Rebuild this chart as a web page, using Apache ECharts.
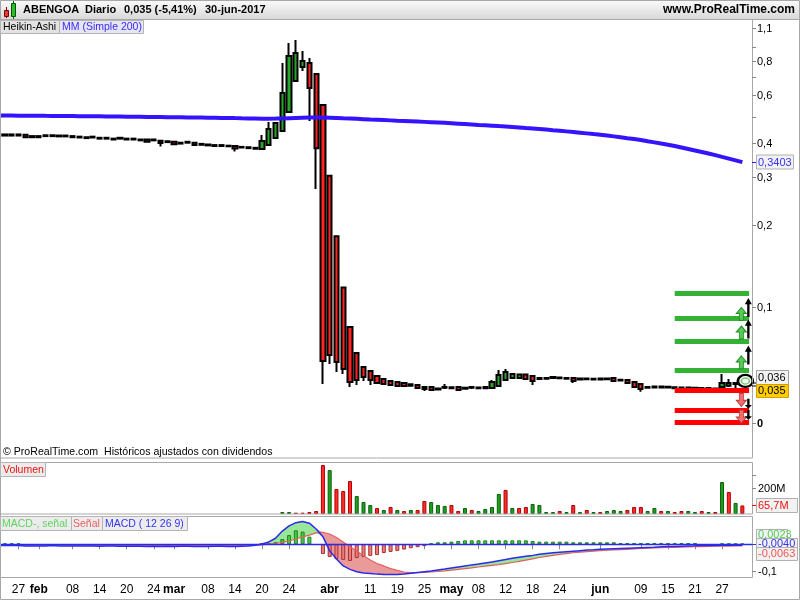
<!DOCTYPE html>
<html><head><meta charset="utf-8">
<script src="https://cdn.jsdelivr.net/npm/echarts@6/dist/echarts.min.js"></script>
<style>html,body{margin:0;padding:0;background:#fff}#c{width:800px;height:600px}</style>
</head><body><div id="c"></div>
<script>
// ---------- DATA ----------
const dates = ['01-24','01-25','01-26','01-27','01-30','01-31',
'02-01','02-02','02-03','02-06','02-07','02-08','02-09','02-10','02-13','02-14','02-15','02-16','02-17','02-20','02-21','02-22','02-23','02-24','02-27','02-28',
'03-01','03-02','03-03','03-06','03-07','03-08','03-09','03-10','03-13','03-14','03-15','03-16','03-17','03-20','03-21','03-22','03-23','03-24','03-27','03-28','03-29','03-30','03-31',
'04-03','04-04','04-05','04-06','04-07','04-10','04-11','04-12','04-13','04-18','04-19','04-20','04-21','04-24','04-25','04-26','04-27','04-28',
'05-02','05-03','05-04','05-05','05-08','05-09','05-10','05-11','05-12','05-15','05-16','05-17','05-18','05-19','05-22','05-23','05-24','05-25','05-26','05-29','05-30','05-31',
'06-01','06-02','06-05','06-06','06-07','06-08','06-09','06-12','06-13','06-14','06-15','06-16','06-19','06-20','06-21','06-22','06-23','06-26','06-27','06-28','06-29','06-30'];

const xTickDates = ['01-27','02-01','02-08','02-14','02-20','02-24','03-01','03-08','03-14','03-20','03-24','04-03','04-11','04-19','04-25','05-02','05-08','05-12','05-18','05-24','06-01','06-09','06-15','06-21','06-27'];
const xTickTexts = ['27','feb','08','14','20','24','mar','08','14','20','24','abr','11','19','25','may','08','12','18','24','jun','09','15','21','27'];
const monthNames = ['feb','mar','abr','may','jun'];

// Heikin-Ashi candles: [open, close, low, high]
const haCandles = [
[0.426,0.430,0.426,0.430],[0.426,0.430,0.426,0.430],[0.426,0.430,0.426,0.430],[0.426,0.430,0.426,0.430],
[0.429,0.420,0.420,0.429],[0.420,0.424,0.420,0.424],[0.420,0.424,0.420,0.424],[0.424,0.427,0.424,0.427],
[0.424,0.427,0.424,0.427],[0.423,0.426,0.423,0.426],[0.423,0.426,0.423,0.426],[0.420,0.424,0.420,0.424],
[0.419,0.422,0.419,0.422],[0.417,0.420,0.417,0.420],[0.419,0.422,0.419,0.422],[0.415,0.418,0.415,0.418],
[0.415,0.418,0.415,0.418],[0.412,0.415,0.412,0.415],[0.415,0.418,0.415,0.418],[0.412,0.415,0.412,0.415],
[0.412,0.415,0.412,0.415],[0.409,0.412,0.409,0.412],[0.412,0.404,0.404,0.412],[0.409,0.412,0.409,0.412],
[0.408,0.400,0.388,0.408],[0.403,0.406,0.403,0.406],[0.404,0.396,0.396,0.404],[0.398,0.401,0.398,0.401],
[0.401,0.404,0.401,0.404],[0.401,0.393,0.393,0.401],[0.394,0.397,0.394,0.397],[0.392,0.395,0.392,0.395],
[0.390,0.393,0.390,0.393],[0.390,0.393,0.390,0.393],[0.389,0.391,0.389,0.391],[0.390,0.382,0.372,0.390],
[0.385,0.387,0.385,0.387],[0.383,0.386,0.383,0.386],[0.381,0.384,0.381,0.384],
[0.380,0.407,0.380,0.428],[0.393,0.450,0.393,0.478],[0.417,0.474,0.417,0.476],[0.443,0.610,0.443,0.787],
[0.520,0.835,0.520,0.932],[0.676,0.856,0.676,0.955],[0.760,0.800,0.735,0.870],[0.787,0.637,0.482,0.820],
[0.717,0.383,0.271,0.717],[0.552,0.0633,0.0521,0.552],[0.303,0.0667,0.0618,0.303],[0.182,0.0628,0.0577,0.182],
[0.118,0.0592,0.0568,0.118],[0.0845,0.0530,0.0509,0.0845],[0.0678,0.0539,0.0517,0.0678],[0.0602,0.0553,0.0535,0.0602],
[0.0582,0.0539,0.0517,0.0582],[0.0558,0.0526,0.0522,0.0558],[0.0544,0.0521,0.0517,0.0544],[0.0535,0.0517,0.0513,0.0535],
[0.0530,0.0513,0.0510,0.0530],[0.0526,0.0513,0.0510,0.0526],[0.0520,0.0514,0.0512,0.0520],[0.0517,0.0504,0.0502,0.0517],
[0.0509,0.0500,0.0492,0.0509],[0.0509,0.0496,0.0494,0.0509],[0.0502,0.0498,0.0496,0.0504],[0.0505,0.0509,0.0500,0.0521],
[0.0503,0.0507,0.0500,0.0509],[0.0509,0.0496,0.0494,0.0509],[0.0505,0.0501,0.0500,0.0507],[0.0505,0.0509,0.0500,0.0512],
[0.0503,0.0506,0.0500,0.0508],[0.0503,0.0508,0.0500,0.0510],[0.0504,0.0530,0.0504,0.0539],[0.0513,0.0563,0.0513,0.0587],
[0.0539,0.0577,0.0537,0.0592],[0.0549,0.0568,0.0549,0.0570],[0.0549,0.0565,0.0547,0.0568],[0.0565,0.0544,0.0542,0.0568],
[0.0558,0.0535,0.0517,0.0558],[0.0549,0.0544,0.0543,0.0550],[0.0545,0.0549,0.0544,0.0550],[0.0549,0.0553,0.0548,0.0554],
[0.0547,0.0551,0.0546,0.0552],[0.0545,0.0549,0.0544,0.0550],[0.0549,0.0535,0.0526,0.0549],[0.0542,0.0546,0.0541,0.0547],
[0.0543,0.0546,0.0541,0.0547],[0.0542,0.0545,0.0541,0.0547],[0.0542,0.0546,0.0541,0.0547],[0.0543,0.0546,0.0541,0.0547],
[0.0549,0.0535,0.0535,0.0549],[0.0537,0.0541,0.0536,0.0542],[0.0539,0.0526,0.0526,0.0539],[0.0530,0.0509,0.0509,0.0530],
[0.0521,0.0500,0.0488,0.0521],[0.0509,0.0505,0.0502,0.0511],[0.0506,0.0511,0.0504,0.0513],[0.0506,0.0511,0.0504,0.0513],
[0.0506,0.0510,0.0504,0.0513],[0.0503,0.0507,0.0501,0.0509],[0.0502,0.0506,0.0500,0.0507],[0.0502,0.0506,0.0500,0.0507],
[0.0502,0.0505,0.0500,0.0507],[0.0500,0.0504,0.0499,0.0505],[0.0500,0.0504,0.0499,0.0505],[0.0498,0.0502,0.0497,0.0503],
[0.0509,0.0526,0.0506,0.0568],[0.0514,0.0526,0.0509,0.0544],[0.0521,0.0526,0.0504,0.0530],[0.0524,0.0521,0.0513,0.0530]
];

// Simple moving average 200
const ma200 = [0.5047,0.5045,0.5043,0.5041,0.5039,0.5037,0.5034,0.5031,0.5029,0.5027,
0.5025,0.5022,0.5019,0.5016,0.5013,0.5010,0.5007,0.5004,0.5000,0.4996,
0.4993,0.4990,0.4987,0.4983,0.4980,0.4977,0.4973,0.4969,0.4965,0.4962,
0.4958,0.4954,0.4950,0.4946,0.4941,0.4936,0.4930,0.4925,0.4920,
0.4915,0.4915,0.4918,0.4925,0.4935,0.4945,0.4955,0.4962,0.4965,
0.4963,0.4955,0.4943,0.4930,0.4918,0.4905,0.4892,0.4879,0.4867,0.4855,0.4843,0.4830,0.4818,0.4806,0.4794,0.4782,0.4770,0.4757,
0.4742,0.4726,0.4710,0.4694,0.4678,0.4662,0.4647,0.4631,0.4615,0.4600,0.4581,0.4562,0.4542,0.4523,0.4503,0.4481,0.4458,0.4436,
0.4413,0.4390,0.4365,0.4339,0.4313,0.4288,0.4262,0.4230,0.4198,0.4166,0.4135,0.4103,0.4062,0.4022,0.3981,0.3941,0.3900,
0.3852,0.3804,0.3756,0.3708,0.3660,0.3609,0.3557,0.3506,0.3454,0.3403];

// Volume (millions) and direction (1 = up/green, 0 = down/red)
const volumeM = [0,0,0,0,0,0,0,0,0,0, 0,0,0,0,0,0,0,0,0,0, 0,0,0,0,0,0,0,0,0,0, 0,0,0,0,0,0,0,0,0,0, 0,0,
15,15,10,10,15,23,377,338,192,177,254,138,92,69,46,31,54,31,23,31,31,100,92,69,62,69,23,46,31,23,38,54,154,185,
46,46,54,77,69,15,15,23,15,69,15,31,15,15,23,31,23,31,54,54,23,46,23,23,15,23,23,15,23,15,15,246,169,85,65.7];
const volumeUp = [0,0,0,0,0,0,0,0,0,0, 0,0,0,0,0,0,0,0,0,0, 0,0,0,0,0,0,0,0,0,0, 0,0,0,0,0,0,0,0,0,0, 0,0,
1,1,0,0,0,0,0,1,0,0,0,1,1,1,0,1,0,1,0,1,0,0,1,1,1,0,0,1,0,1,1,1,1,0,
1,0,0,1,1,1,1,0,1,0,1,0,1,0,1,1,1,0,0,0,1,1,0,1,0,0,1,1,0,1,0,1,0,1,0];

// MACD (12 26 9)
const macdLine = [-0.005,-0.005,-0.005,-0.005,-0.006,-0.006,-0.006,-0.006,-0.005,-0.006,
-0.006,-0.006,-0.006,-0.006,-0.006,-0.007,-0.006,-0.006,-0.007,-0.007,
-0.007,-0.007,-0.008,-0.007,-0.008,-0.007,-0.008,-0.007,-0.007,-0.008,
-0.008,-0.008,-0.007,-0.007,-0.008,-0.008,-0.007,-0.006,-0.004,
0.001,0.009,0.023,0.050,0.070,0.082,0.086,0.080,0.058,0.029,-0.025,-0.056,-0.082,-0.095,-0.104,-0.109,-0.111,-0.113,-0.114,-0.114,
-0.114,-0.1125,-0.110,-0.107,-0.104,-0.101,-0.097,-0.094,-0.090,-0.086,-0.082,-0.078,-0.075,-0.071,-0.067,-0.062,-0.058,-0.053,-0.049,-0.045,
-0.042,-0.038,-0.035,-0.032,-0.030,-0.028,-0.026,-0.024,-0.022,-0.021,-0.019,-0.018,-0.017,-0.016,-0.015,-0.014,-0.013,-0.012,-0.011,-0.0095,
-0.0087,-0.008,-0.0072,-0.0065,-0.0058,-0.005,-0.0046,-0.0043,-0.0035,-0.0035,-0.0038,-0.0040];
const signalLine = [-0.002,-0.002,-0.001,-0.002,-0.002,-0.002,-0.002,-0.003,-0.002,-0.002,
-0.002,-0.002,-0.003,-0.002,-0.002,-0.002,-0.003,-0.002,-0.002,-0.003,
-0.003,-0.002,-0.003,-0.003,-0.002,-0.003,-0.003,-0.002,-0.003,-0.003,
-0.003,-0.003,-0.003,-0.002,-0.003,-0.003,-0.003,-0.003,-0.003,
-0.002,0.001,0.003,0.007,0.0125,0.020,0.028,0.035,0.043,0.0455,0.039,0.026,0.009,-0.009,-0.025,-0.043,-0.0595,-0.073,-0.082,-0.092,
-0.099,-0.105,-0.107,-0.1075,-0.1065,-0.105,-0.103,-0.101,-0.098,-0.095,-0.092,-0.089,-0.086,-0.083,-0.080,-0.077,-0.073,-0.069,-0.065,-0.060,
-0.055,-0.050,-0.046,-0.042,-0.038,-0.035,-0.032,-0.030,-0.028,-0.026,-0.024,-0.022,-0.021,-0.020,-0.019,-0.0175,-0.016,-0.015,-0.014,-0.013,
-0.012,-0.0115,-0.0105,-0.0097,-0.009,-0.0085,-0.008,-0.0075,-0.0071,-0.0068,-0.0065,-0.0063];
const macdHist = [0.004,0.004,0.004,0.004,0,0,0,0,0,0, 0,0,0,0,0,0,0,0,0,0, 0,0,0,0,0,0,0,0,0,0, 0,0,0,0,0,0,0,0,0,
0.004,0.004,0.008,0.020,0.035,0.053,0.048,0.029,0,-0.037,-0.048,-0.056,-0.059,-0.063,-0.052,-0.048,-0.044,-0.041,-0.033,-0.029,-0.025,-0.020,-0.015,-0.011,-0.007,
0.004,0.0076,0.0076,0.010,0.0125,0.015,0.015,0.015,0.015,0.015,0.015,0.015,0.015,0.015,0.015,0.0125,0.010,0.010,0.010,0.010,0.010,
0.0076,0.0076,0.0076,0.0076,0.0076,0.0076,0.0076,0.005,0.005,0.005,0.005,0.005,0.005,0.005,0.005,0.005,0.005,0.005,0.005,0,0,0,0.003,0.003,0.0025,0.0023];

// Right-axis tick labels
const priceTickValues = [1.1, 0.8, 0.6, 0.4, 0.3, 0.2, 0.1, 0.0375];
const priceTickTexts  = ['1,1','0,8','0,6','0,4','0,3','0,2','0,1','0'];
const priceMinorTicks = [0.9, 0.7, 0.5];
const volumeTickValues = [300, 200];
const volumeTickTexts = ['', '200M'];
const macdTickValues = [-0.1];
const macdTickTexts = ['-0,1'];

// Price alert levels (drawn at the right side)
const alertGreenLevels = [0.1121, 0.0907, 0.0747, 0.0585];
const alertRedLevels = [0.0496, 0.0417, 0.0377];
const arrowUpLevels = [0.0943, 0.0806, 0.0626];
const arrowUpBlackLevels = [0.0996, 0.0830, 0.0667];
const arrowDownLevels = [0.0456, 0.0396];
const arrowDownBlackLevels = [0.0441, 0.0401];

// ---------- CHART ----------
const FONT = '"Liberation Sans", Arial, Helvetica, sans-serif';
const cats = dates.concat(['']);
const GL = -5.2, GR = 47.5;
const tickSet = new Set(xTickDates);
const chart = echarts.init(document.getElementById('c'), null, {renderer: 'canvas'});

const GREEN = '#26a626', RED = '#ff2222';
const base = macdLine.map((m, i) => Math.min(m, signalLine[i]));
const bandGreen = macdLine.map((m, i) => m > signalLine[i] ? m - signalLine[i] : 0);
const bandRed = macdLine.map((m, i) => m < signalLine[i] ? signalLine[i] - m : 0);

const lastIdx = haCandles.length - 1;
const upArrow = 'path://M5,0 L10,6 L7,6 L7,13 L3,13 L3,6 L0,6 Z';
const downArrow = 'path://M3,0 L7,0 L7,7 L10,7 L5,13 L0,7 L3,7 Z';
const upThin = 'path://M3,0 L6,6 L4,6 L4,18 L2,18 L2,6 L0,6 Z';
const downThin = 'path://M2,0 L4,0 L4,8 L6,8 L3,13 L0,8 L2,8 Z';

const markPts = [];
arrowUpLevels.forEach(v => markPts.push({coord:[lastIdx, v], symbol: upArrow, symbolSize:[10,13], symbolOffset:[-1,0], itemStyle:{color:'#55cc55', borderColor:'#2a8a2a', borderWidth:1}}));
arrowUpBlackLevels.forEach(v => markPts.push({coord:[lastIdx, v], symbol: upThin, symbolSize:[7,19], symbolOffset:[6,0], itemStyle:{color:'#000'}}));
arrowDownLevels.forEach(v => markPts.push({coord:[lastIdx, v], symbol: downArrow, symbolSize:[10,13], symbolOffset:[-1,0], itemStyle:{color:'#f07070', borderColor:'#c04040', borderWidth:1}}));
arrowDownBlackLevels.forEach(v => markPts.push({coord:[lastIdx, v], symbol: downThin, symbolSize:[7,10], symbolOffset:[6,0], itemStyle:{color:'#000'}}));
markPts.push({coord:[lastIdx, 0.0535], symbol:'circle', symbolSize:[15,12], symbolOffset:[3,0], itemStyle:{color:'#fff', borderColor:'#000', borderWidth:2.5}});
markPts.push({coord:[lastIdx, 0.0535], symbol:'circle', symbolSize:[8,6], symbolOffset:[3,0], itemStyle:{color:'#fff', borderColor:'#77cc77', borderWidth:1.5}});

const alertLines = [];
alertGreenLevels.forEach(v => alertLines.push([{coord:[100, v], lineStyle:{color:'#33b233', width:5, type:'solid'}}, {coord:[111, v]}]));
alertRedLevels.forEach(v => alertLines.push([{coord:[100, v], lineStyle:{color:'#ff0000', width:5, type:'solid'}}, {coord:[111, v]}]));

const option = {
  animation: false,
  textStyle: {fontFamily: FONT},
  grid: [
    {left: GL, right: GR, top: 20, height: 438, outerBoundsMode: 'none'},
    {left: GL, right: GR, top: 462, height: 52, outerBoundsMode: 'none'},
    {left: GL, right: GR, top: 517, height: 60, outerBoundsMode: 'none'}
  ],
  xAxis: [
    {type:'category', gridIndex:0, data:cats, show:false},
    {type:'category', gridIndex:1, data:cats, show:false},
    {type:'category', gridIndex:2, data:cats,
      axisLine:{show:false},
      axisTick:{show:true, alignWithLabel:true, length:5, interval:(i, v) => tickSet.has(v), lineStyle:{color:'#888'}},
      axisLabel:{interval:(i, v) => tickSet.has(v), margin:7, color:'#000', fontSize:12, fontFamily:FONT,
        formatter:(v) => { const k = xTickDates.indexOf(v); if (k < 0) return ''; const t = xTickTexts[k]; return monthNames.indexOf(t) >= 0 ? '{b|' + t + '}' : t; },
        rich:{b:{fontWeight:'bold', fontSize:12, color:'#000', fontFamily:FONT}}},
      splitLine:{show:false}}
  ],
  yAxis: [
    {type:'log', logBase:10, gridIndex:0, min:0.0279, max:1.1314, show:false},
    {type:'value', gridIndex:1, min:0, max:400, show:false},
    {type:'value', gridIndex:2, min:-0.1239, max:0.1034, show:false}
  ],
  series: [
    {type:'candlestick', name:'Heikin-Ashi', xAxisIndex:0, yAxisIndex:0, data:haCandles, barWidth:4.7, z:2,
      itemStyle:{color:GREEN, color0:RED, borderColor:'#000', borderColor0:'#000', borderColorDoji:'#000', borderWidth:2},
      markLine:{silent:true, symbol:['none','none'], label:{show:false}, animation:false, data:alertLines},
      markPoint:{silent:true, label:{show:false}, animation:false, data:markPts}},
    {type:'line', name:'MM (Simple 200)', xAxisIndex:0, yAxisIndex:0, data:ma200, showSymbol:false, z:5,
      lineStyle:{color:'#3414ff', width:4}},
    {type:'bar', name:'Volumen', xAxisIndex:1, yAxisIndex:1, barWidth:4,
      data: volumeM.map((v, i) => v === 0 ? '-' : ({value:v, itemStyle: volumeUp[i] ? {color:'#1f9f1f', borderColor:'#0c600c', borderWidth:1} : {color:'#ff2b2b', borderColor:'#b00000', borderWidth:1}}))},
    {type:'line', xAxisIndex:2, yAxisIndex:2, data:base, stack:'band', stackStrategy:'all', showSymbol:false, lineStyle:{opacity:0}, z:1},
    {type:'line', xAxisIndex:2, yAxisIndex:2, data:bandGreen, stack:'band', stackStrategy:'all', showSymbol:false, lineStyle:{opacity:0}, areaStyle:{color:'#99e699', opacity:1}, z:1},
    {type:'line', xAxisIndex:2, yAxisIndex:2, data:bandRed, stack:'band', stackStrategy:'all', showSymbol:false, lineStyle:{opacity:0}, areaStyle:{color:'#eb9a9a', opacity:1}, z:1},
    {type:'bar', name:'MACD-, señal', xAxisIndex:2, yAxisIndex:2, barWidth:4, z:2,
      data: macdHist.map(v => v === 0 ? '-' : ({value:v, itemStyle: v > 0 ? {color:'#44cc44', borderColor:'#1f801f', borderWidth:1} : {color:'#ec7c7c', borderColor:'#a83030', borderWidth:1}}))},
    {type:'line', name:'Señal', xAxisIndex:2, yAxisIndex:2, data:signalLine, showSymbol:false, z:3, lineStyle:{color:'#e06060', width:1.2}},
    {type:'line', name:'MACD', xAxisIndex:2, yAxisIndex:2, data:macdLine, showSymbol:false, z:4, lineStyle:{color:'#2a2aee', width:1.5},
      markLine:{silent:true, symbol:['none','none'], label:{show:false}, animation:false, lineStyle:{color:'#2a2aee', width:1.3, type:'solid'}, data:[{yAxis:0}]}}
  ]
};
chart.setOption(option);

// ---------- GRAPHICS (frame, header, labels) ----------
const g = [];
const txt = (text, x, y, fill, font, align) => ({type:'text', silent:true, z:100, style:{text, x, y, fill, font: font || ('11px ' + FONT), align: align || 'left', verticalAlign:'middle'}});
const rect = (x, y, w, h, fill, stroke, z) => ({type:'rect', silent:true, z: z || 90, shape:{x, y, width:w, height:h}, style:{fill: fill || 'none', stroke: stroke || 'none', lineWidth:1}});
const line = (x1, y1, x2, y2, stroke) => ({type:'line', silent:true, z:95, shape:{x1, y1, x2, y2}, style:{stroke: stroke || '#888', lineWidth:1}});

// header
g.push({type:'rect', silent:true, z:80, shape:{x:0, y:0, width:800, height:19},
  style:{fill: new echarts.graphic.LinearGradient(0,0,0,1,[{offset:0,color:'#fbfbfb'},{offset:1,color:'#d9d9d9'}]), stroke:'none'}});
g.push(line(0, 19.5, 800, 19.5, '#a8a8a8'));
g.push(line(6.5, 7, 6.5, 18, '#800'));
g.push(rect(4.5, 10.5, 4, 6, '#e03a3a', '#800000', 96));
g.push(line(13.5, 1, 13.5, 19, '#060'));
g.push(rect(11.5, 3.5, 4, 13, '#2cbb2c', '#005500', 96));
const HB = 'bold 11px ' + FONT;
g.push(txt('ABENGOA', 23, 10, '#000', HB));
g.push(txt('Diario', 85, 10, '#000', HB));
g.push(txt('0,035 (-5,41%)', 124, 10, '#000', HB));
g.push(txt('30-jun-2017', 205, 10, '#000', HB));
g.push(txt('www.ProRealTime.com', 795, 10, '#000', 'bold 12px ' + FONT, 'right'));

// panel frames
g.push(rect(0.5, 19.5, 752, 438.5, 'none', '#a8a8a8'));
g.push(rect(0.5, 462.5, 752, 51.5, 'none', '#a8a8a8'));
g.push(rect(0.5, 516.5, 752, 61, 'none', '#a8a8a8'));
g.push(rect(0.5, 0.5, 799, 599, 'none', '#a8a8a8'));

// legend boxes
const LF = '10.5px ' + FONT;
g.push(rect(0.5, 20.5, 59, 13, '#e3e3e3', '#b4b4b4'));
g.push(txt('Heikin-Ashi', 3, 27, '#000', LF));
g.push(rect(59.5, 20.5, 84, 13, '#e6e6f0', '#b4b4b4'));
g.push(txt('MM (Simple 200)', 62, 27, '#3b2bff', LF));
g.push(txt('© ProRealTime.com  Históricos ajustados con dividendos', 3, 452, '#000', '10.6px ' + FONT));
g.push(rect(0.5, 462.5, 45, 14, '#ececec', '#b4b4b4'));
g.push(txt('Volumen', 3, 470, '#ee1111', LF));
g.push(rect(0.5, 516.5, 71, 14, '#ececec', '#b4b4b4'));
g.push(txt('MACD-, señal', 2, 524, '#5fd35f', LF));
g.push(rect(71.5, 516.5, 31, 14, '#ececec', '#b4b4b4'));
g.push(txt('Señal', 73, 524, '#e86060', LF));
g.push(rect(102.5, 516.5, 85, 14, '#ececec', '#b4b4b4'));
g.push(txt('MACD ( 12 26 9)', 105, 524, '#3535ee', LF));

const py = (ax, v) => chart.convertToPixel({yAxisIndex: ax}, v);

// price axis (top label kept inside the panel)
priceTickValues.forEach((v, i) => {
  const y = Math.max(28, Math.round(py(0, v))) + 0.5;
  g.push(line(752, y, 756, y, '#888'));
  g.push(txt(priceTickTexts[i], 757, y, '#000', (priceTickTexts[i] === '0' ? 'bold ' : '') + '11px ' + FONT));
});
priceMinorTicks.forEach(v => { const y = Math.round(py(0, v)) + 0.5; g.push(line(752, y, 756, y, '#888')); });
// MA last value label
{
  const y = Math.round(py(0, ma200[lastIdx])) + 0.5;
  g.push(line(752, y, 756, y, '#3414ff'));
  g.push(rect(756.5, y - 7.5, 37, 14, '#f2f2f2', '#b0b0b0'));
  g.push(txt('0,3403', 758, y, '#3333ff'));
}
// last price labels
{
  const y = Math.round(py(0, haCandles[lastIdx][1])) + 0.5;
  g.push(line(752, y - 1.5, 756, y - 1.5, '#000'));
  g.push(line(752, y + 1.5, 756, y + 1.5, '#000'));
  g.push(rect(756.5, y - 14, 32, 14, '#f2f2f2', '#a0a0a0'));
  g.push(txt('0,036', 758, y - 7, '#000'));
  g.push(rect(756.5, y, 32, 13, '#ffcc00', '#d0a000'));
  g.push(txt('0,035', 758, y + 6.5, '#000'));
}
// volume axis
volumeTickValues.forEach((v, i) => {
  const y = Math.round(py(1, v)) + 0.5;
  g.push(line(752, y, 756, y, '#888'));
  if (volumeTickTexts[i]) g.push(txt(volumeTickTexts[i], 758, y, '#000'));
});
{
  const y = Math.round(py(1, volumeM[lastIdx])) + 0.5;
  g.push(line(752, y, 756, y, '#ee1111'));
  g.push(rect(756.5, y - 7, 41, 14, '#f2f2f2', '#b0b0b0'));
  g.push(txt('65,7M', 758, y, '#ee1111'));
}
// macd axis
macdTickValues.forEach((v, i) => {
  const y = Math.round(py(2, v)) + 0.5;
  g.push(line(752, y, 756, y, '#888'));
  g.push(txt(macdTickTexts[i], 758, y, '#000'));
});
{
  const y0 = Math.round(py(2, 0)) + 0.5;
  g.push(rect(756.5, y0 - 15, 31, 11, '#f2f2f2', '#b0b0b0'));
  g.push(txt('0,0023', 758, y0 - 9.5, '#55cc55'));
  g.push(rect(756.5, y0 - 6, 41, 10, '#f2f2f2', '#b0b0b0'));
  g.push(txt('-0,0040', 758, y0 - 1, '#3333ee'));
  g.push(line(752, y0, 756, y0, '#3333ee'));
  g.push(rect(756.5, y0 + 3, 41, 13, '#f2f2f2', '#b0b0b0'));
  g.push(txt('-0,0063', 758, y0 + 9.5, '#ee5555'));
}

chart.setOption({graphic: {elements: g}});
</script>
</body></html>
